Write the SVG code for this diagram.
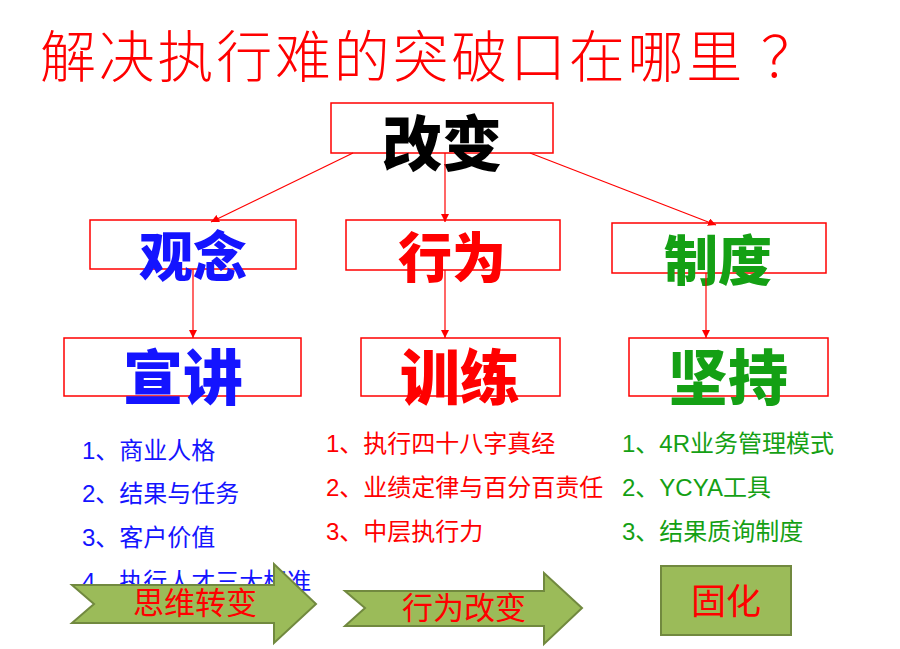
<svg xmlns="http://www.w3.org/2000/svg" width="900" height="649" viewBox="0 0 900 649">
<defs>
<marker id="ah" viewBox="0 0 10 10" refX="10" refY="5" markerWidth="8" markerHeight="8" markerUnits="userSpaceOnUse" orient="auto">
<path d="M0,0 L10,5 L0,10 z" fill="#FF0000"/>
</marker>
</defs>
<style>
.box{fill:#FFFFFF;stroke:#FF0000;stroke-width:1.5}
.big{font-family:"Noto Sans CJK SC","Noto Sans",sans-serif;font-weight:900;text-anchor:middle}
.list{font-family:"Liberation Sans","Noto Sans CJK SC",sans-serif;font-size:24px}
.conn{stroke:#FF0000;stroke-width:1.2;fill:none;marker-end:url(#ah)}
.garrow{fill:#9BBB59;stroke:#71893F;stroke-width:2}
.gtext{font-family:"Noto Sans CJK SC",sans-serif;fill:#FF0000;text-anchor:middle}
.blue{fill:#1414FF}
.red{fill:#FF0000}
.green{fill:#14A014}
</style>
<rect width="900" height="649" fill="#FFFFFF"/>
<text x="40" y="77" font-family="Noto Sans CJK SC, sans-serif" font-weight="300" font-size="56" fill="#FF0000" letter-spacing="2.75">解决执行难的突破口在哪里<tspan x="761" letter-spacing="0">？</tspan></text>

<g id="node-gaibian">
<rect class="box" x="331" y="103" width="222" height="50"/>
<text class="big" x="442" y="166" font-size="60" fill="#000000">改变</text>
</g>
<g id="node-guannian">
<rect class="box" x="90" y="220" width="206" height="49"/>
<text class="big blue" x="193" y="277" font-size="54">观念</text>
</g>
<g id="node-xingwei">
<rect class="box" x="346" y="220" width="214" height="50"/>
<text class="big red" x="452" y="278" font-size="54">行为</text>
</g>
<g id="node-zhidu">
<rect class="box" x="612" y="223" width="214" height="50"/>
<text class="big green" x="718" y="281" font-size="54">制度</text>
</g>
<g id="node-xuanjiang">
<rect class="box" x="64" y="338" width="237" height="58"/>
<text class="big blue" x="183" y="400" font-size="60">宣讲</text>
</g>
<g id="node-xunlian">
<rect class="box" x="361" y="338" width="199" height="58"/>
<text class="big red" x="460" y="400" font-size="60">训练</text>
</g>
<g id="node-jianchi">
<rect class="box" x="629" y="338" width="199" height="58"/>
<text class="big green" x="728" y="400" font-size="60">坚持</text>
</g>

<g id="connectors">
<line class="conn" x1="353" y1="153" x2="211" y2="222"/>
<line class="conn" x1="445" y1="153" x2="445" y2="222"/>
<line class="conn" x1="530" y1="153" x2="716" y2="225"/>
<line class="conn" x1="193" y1="269" x2="193" y2="338"/>
<line class="conn" x1="445" y1="270" x2="445" y2="338"/>
<line class="conn" x1="706" y1="273" x2="706" y2="338"/>
</g>

<g id="list-left" class="list blue">
<text x="82" y="459">1、商业人格</text>
<text x="82" y="502">2、结果与任务</text>
<text x="82" y="546">3、客户价值</text>
<text x="82" y="590">4、执行人才三大标准</text>
</g>
<g id="list-mid" class="list red">
<text x="326" y="452">1、执行四十八字真经</text>
<text x="326" y="496">2、业绩定律与百分百责任</text>
<text x="326" y="540">3、中层执行力</text>
</g>
<g id="list-right" class="list green">
<text x="622" y="452">1、4R业务管理模式</text>
<text x="622" y="496">2、YCYA工具</text>
<text x="622" y="540">3、结果质询制度</text>
</g>

<g id="arrow-siwei">
<polygon class="garrow" points="72,585 274,585 274,564 316,604 274,643 274,623 72,623 94,604"/>
<text class="gtext" x="195" y="614" font-size="31">思维转变</text>
</g>
<g id="arrow-xingwei">
<polygon class="garrow" points="345,591 544,591 544,573 582,608 544,644 544,626 345,626 365,608"/>
<text class="gtext" x="464" y="619" font-size="31">行为改变</text>
</g>
<g id="box-guhua">
<rect class="garrow" x="661" y="566" width="130" height="69"/>
<text class="gtext" x="726" y="614" font-size="35">固化</text>
</g>
</svg>
